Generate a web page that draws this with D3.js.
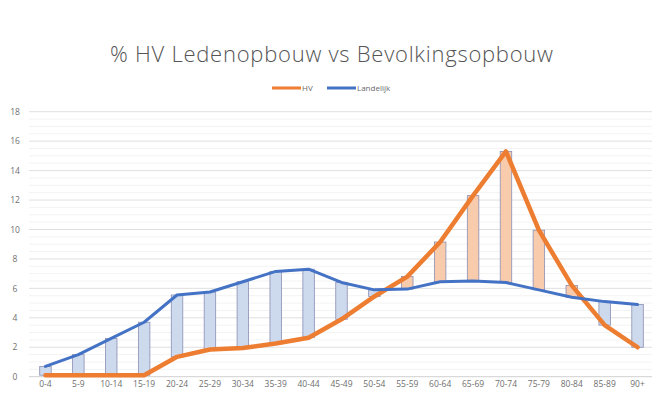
<!DOCTYPE html>
<html>
<head>
<meta charset="utf-8">
<script src="https://cdn.jsdelivr.net/npm/d3@7"></script>
<style>
  body { margin: 0; background: #fff; }
  text { font-family: "Open Sans", "Liberation Sans", sans-serif; }
</style>
</head>
<body>
<svg id="chart" width="654" height="400"></svg>
<script>
// age groups
var categories = ["0-4", "5-9", "10-14", "15-19", "20-24", "25-29", "30-34", "35-39", "40-44", "45-49",
  "50-54", "55-59", "60-64", "65-69", "70-74", "75-79", "80-84", "85-89", "90+"];
// % members HV
var hvValues = [0.1, 0.1, 0.1, 0.1, 1.35, 1.85, 1.95, 2.25, 2.65, 3.9,
  5.45, 6.8, 9.15, 12.3, 15.3, 9.95, 6.2, 3.5, 2.0];
// % national population
var landValues = [0.7, 1.5, 2.6, 3.7, 5.55, 5.75, 6.45, 7.15, 7.3, 6.4,
  5.9, 5.95, 6.45, 6.5, 6.4, 5.9, 5.4, 5.1, 4.9];
var yTicks = [0, 2, 4, 6, 8, 10, 12, 14, 16, 18];

var svg = d3.select("#chart");

var x = d3.scaleBand()
  .domain(categories)
  .range([29, 654]);

var y = d3.scaleLinear()
  .domain([0, 18])
  .range([376.7, 111.7]);

var rows = categories.map(function (c, i) {
  return { cat: c, hv: hvValues[i], land: landValues[i] };
});

// minor gridlines
svg.append("g")
  .selectAll("line")
  .data(d3.range(0.5, 18, 0.5).filter(function (v) { return v % 2 !== 0; }))
  .enter().append("line")
  .attr("x1", 29).attr("x2", 652)
  .attr("y1", function (d) { return y(d); })
  .attr("y2", function (d) { return y(d); })
  .attr("stroke", "#f3f3f3")
  .attr("stroke-width", 1);

// major gridlines
svg.append("g")
  .selectAll("line")
  .data(yTicks)
  .enter().append("line")
  .attr("x1", 29).attr("x2", 652)
  .attr("y1", function (d) { return y(d); })
  .attr("y2", function (d) { return y(d); })
  .attr("stroke", function (d) { return d === 0 ? "#d0d0d0" : "#e0e0e0"; })
  .attr("stroke-width", 1);

// y axis labels
var yAxis = d3.axisLeft(y).tickValues(yTicks).tickSize(0).tickPadding(6);
var yg = svg.append("g")
  .attr("transform", "translate(22,0)")
  .call(yAxis);
yg.select(".domain").remove();
yg.selectAll("text")
  .attr("fill", "#6f6f6f")
  .attr("font-size", 8.5)
  .attr("font-family", "Open Sans, sans-serif")
  .attr("text-anchor", "middle")
  .attr("x", -7);

// x axis labels
var xAxis = d3.axisBottom(x).tickSize(0).tickPadding(4);
var xg = svg.append("g")
  .attr("transform", "translate(0," + y(0) + ")")
  .call(xAxis);
xg.select(".domain").remove();
xg.selectAll("text")
  .attr("fill", "#6f6f6f")
  .attr("font-size", 8.5)
  .attr("font-family", "Open Sans, sans-serif");

// up / down bars
var barW = 11.5;
svg.append("g")
  .selectAll("rect")
  .data(rows)
  .enter().append("rect")
  .attr("x", function (d) { return x(d.cat) + x.bandwidth() / 2 - barW / 2; })
  .attr("y", function (d) { return y(Math.max(d.hv, d.land)); })
  .attr("width", barW)
  .attr("height", function (d) { return Math.abs(y(d.hv) - y(d.land)); })
  .attr("fill", function (d) { return d.hv > d.land ? "#f8cbad" : "#cdd9ec"; })
  .attr("stroke", "#8a8fb5")
  .attr("stroke-width", 0.8);

var cx = function (d) { return x(d.cat) + x.bandwidth() / 2; };

var hvLine = d3.line()
  .x(cx)
  .y(function (d) { return y(d.hv); });

var landLine = d3.line()
  .x(cx)
  .y(function (d) { return y(d.land); });

svg.append("path")
  .datum(rows)
  .attr("d", hvLine)
  .attr("fill", "none")
  .attr("stroke", "#ed7d31")
  .attr("stroke-width", 4.5)
  .attr("stroke-linejoin", "round")
  .attr("stroke-linecap", "round");

svg.append("path")
  .datum(rows)
  .attr("d", landLine)
  .attr("fill", "none")
  .attr("stroke", "#4472c4")
  .attr("stroke-width", 3)
  .attr("stroke-linejoin", "round")
  .attr("stroke-linecap", "round");

// title
svg.append("text")
  .attr("x", 331.5)
  .attr("y", 62)
  .attr("text-anchor", "middle")
  .attr("font-size", 22)
  .attr("font-weight", 300)
  .attr("fill", "#555555")
  .attr("textLength", 443)
  .attr("lengthAdjust", "spacing")
  .text("% HV Ledenopbouw vs Bevolkingsopbouw");

// legend
var legend = [
  { name: "HV", color: "#ed7d31", x: 272 },
  { name: "Landelijk", color: "#4472c4", x: 327 }
];
var lg = svg.append("g").selectAll("g")
  .data(legend)
  .enter().append("g");
lg.append("line")
  .attr("x1", function (d) { return d.x; })
  .attr("x2", function (d) { return d.x + 29; })
  .attr("y1", 88).attr("y2", 88)
  .attr("stroke", function (d) { return d.color; })
  .attr("stroke-width", 3);
lg.append("text")
  .attr("x", function (d) { return d.x + 30; })
  .attr("y", 91)
  .attr("font-size", 8)
  .attr("fill", "#6a6a6a")
  .text(function (d) { return d.name; });
</script>
</body>
</html>
